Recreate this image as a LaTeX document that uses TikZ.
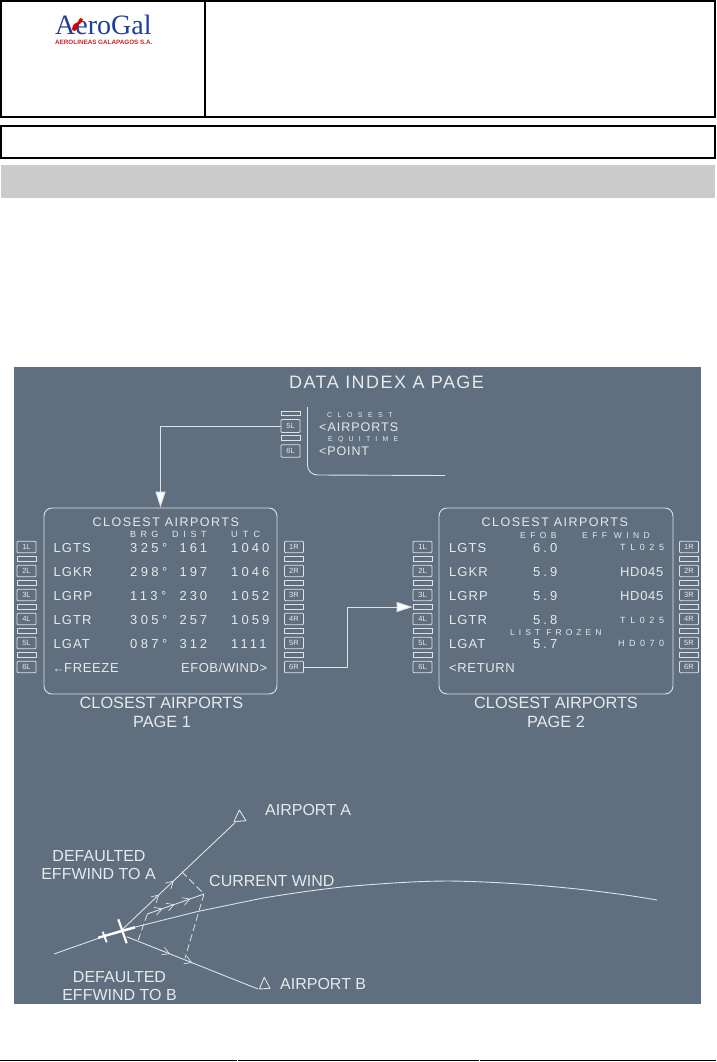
\documentclass[tikz,border=0pt]{standalone}
\usepackage{fontspec}
\setmainfont{Liberation Sans}
\newfontfamily\logoserif{Liberation Serif}
\usetikzlibrary{arrows.meta,decorations.markings}
\definecolor{panelbg}{HTML}{5F6F7F}
\definecolor{inkc}{HTML}{E6EAED}
\definecolor{linec}{HTML}{DDE2E6}
\definecolor{greybar}{HTML}{CBCBCB}
\definecolor{logoblue}{HTML}{1F3E96}
\definecolor{logored}{HTML}{C9252C}
\tikzset{
  hdrbox/.style={draw=black,line width=2pt},
  screenbox/.style={draw=linec,line width=0.9pt,rounded corners=8pt,minimum width=233pt,minimum height=186pt,inner sep=0pt},
  keybtn/.style={draw=linec,line width=0.8pt,rounded corners=1pt,minimum width=19pt,minimum height=11.5pt,inner sep=0pt,text=inkc,font=\fontsize{7.5}{7.5}\selectfont},
  keygap/.style={draw=linec,line width=0.8pt,minimum width=19pt,minimum height=4.5pt,inner sep=0pt},
  txt/.style={anchor=base west,inner sep=0pt,text=inkc},
  ctxt/.style={anchor=base,inner sep=0pt,text=inkc},
  conn/.style={draw=linec,line width=1pt},
  bighead/.style={-{Triangle[length=16pt,width=10pt,fill=white]}},
  track/.style={draw=linec,line width=0.9pt},
  dashline/.style={draw=linec,line width=0.8pt,dash pattern=on 7pt off 3.5pt},
  chev/.style={draw=linec,line width=0.7pt}
}
% \T{name}{x}{y}{size}{letterspace}{text}
\newcommand{\T}[6]{\node[txt] (#1) at (#2,#3) {\fontsize{#4}{#4}\selectfont\addfontfeature{LetterSpace=#5}#6};}
\newcommand{\C}[6]{\node[ctxt] (#1) at (#2,#3) {\fontsize{#4}{#4}\selectfont\addfontfeature{LetterSpace=#5}#6};}
\begin{document}
\begin{tikzpicture}[x=1pt,y=-1pt]
\useasboundingbox (0,0) rectangle (716,1062);
\fill[white] (0,0) rectangle (716,1062);
% header
\draw[hdrbox] (1,1) rectangle (715,117);
\draw[hdrbox] (205,1) -- (205,117);
\draw[hdrbox] (1,126) rectangle (715,158);
\fill[greybar] (1,165) rectangle (715,198);
% logo
\node[anchor=base west,inner sep=0pt,text=logoblue] (logoA) at (55,35) {\logoserif\fontsize{28}{28}\selectfont AeroGal};
\node[anchor=base west,inner sep=0pt,text=logored] (logoB) at (55,44.5) {\fontsize{6.3}{6.3}\selectfont\bfseries AEROLINEAS GALAPAGOS S.A.};
\fill[red!85!black] (72,29) .. controls (73,24) and (75,23) .. (78,22) .. controls (79,18) and (82,17) .. (83,19) .. controls (82,23) and (80,24) .. (78,25) .. controls (78,28) and (76,30) .. (75,31) .. controls (73,31) and (72,30) .. (72,29);
% panel
\fill[panelbg] (14,367) rectangle (701,1003.5);
\T{ttl}{289}{388}{18}{8}{DATA INDEX A PAGE}
% top keys
\node[keygap] (topS5) at (290.5,413.5) {};
\node[keybtn,minimum height=13pt] (top5L) at (290.5,426) {5L};
\node[keygap] (topS6) at (290.5,438) {};
\node[keybtn,minimum height=12.5pt] (top6L) at (290.5,451) {6L};
\draw[track] (307.5,407) -- (307.5,465) arc[start angle=180,end angle=90,radius=10] -- (445,475.5);
\T{tClo}{327}{417}{7}{78}{CLOSEST}
\T{tAir}{319}{431}{12.5}{8}{<AIRPORTS}
\T{tEqu}{328}{441.5}{7}{74}{EQUITIME}
\T{tPoi}{319}{455}{12.5}{7}{<POINT}
% screens
\node[screenbox] (screenA) at (160.5,601) {};
\node[screenbox,minimum width=234pt] (screenB) at (556,601) {};
% side keys
\foreach \i/\y in {1/547,2/571,3/595,4/619,5/643,6/667}{
  \node[keybtn] (aL\i) at (26.5,\y) {\i L};
  \node[keybtn] (aR\i) at (294,\y) {\i R};
  \node[keybtn] (bL\i) at (422.5,\y) {\i L};
  \node[keybtn] (bR\i) at (689,\y) {\i R};
}
\foreach \i/\y in {1/559,2/583,3/607,4/631,5/655}{
  \node[keygap] (aLg\i) at (26.5,\y) {};
  \node[keygap] (aRg\i) at (294,\y) {};
  \node[keygap] (bLg\i) at (422.5,\y) {};
  \node[keygap] (bRg\i) at (689,\y) {};
}
% connectors
\draw[conn,bighead] (top5L.west) -| (screenA.north);
\coordinate (elbowA) at (347,607);
\draw[conn,bighead] (aR6.east) -| (elbowA) -- (bLg3.west);
% page 1 text
\T{aTitle}{92.5}{526}{12.5}{11.8}{CLOSEST AIRPORTS}
\T{aBrg}{130}{537}{9}{48}{BRG}
\T{aDist}{172}{537}{9}{52}{DIST}
\T{aUtc}{231}{537}{9}{58}{UTC}
\foreach \nm/\y/\a/\b/\c/\d in {1/552/LGTS/325°/161/1040,2/576/LGKR/298°/197/1046,3/600/LGRP/113°/230/1052,4/624/LGTR/305°/257/1059,5/648/LGAT/087°/312/1111}{
  \T{aId\nm}{53.5}{\y}{13}{8}{\a}
  \T{aB\nm}{130}{\y}{13}{26}{\b}
  \T{aD\nm}{179.5}{\y}{13}{22}{\c}
  \T{aU\nm}{231}{\y}{13}{24}{\d}
}
\T{aArr}{52.5}{672}{12}{0}{←}
\T{aFrz}{64}{672}{13}{5}{FREEZE}
\T{aEfo}{181}{672}{13}{4}{EFOB/WIND>}
\C{aCap}{161.5}{708}{16.3}{0}{CLOSEST AIRPORTS}
\C{aPag}{162}{727}{16.3}{0}{PAGE 1}
% page 2 text
\T{bTitle}{481.5}{526}{12.5}{11.8}{CLOSEST AIRPORTS}
\T{bEfo}{520}{538}{8.5}{52}{EFOB}
\T{bEff}{582}{538}{8.5}{52}{EFF WIND}
\foreach \nm/\y/\a/\b in {1/552/LGTS/6.0,2/576/LGKR/5.9,3/600/LGRP/5.9,4/624/LGTR/5.8,5/648/LGAT/5.7}{
  \T{bId\nm}{449}{\y}{13}{8}{\a}
  \T{bV\nm}{533}{\y}{13}{23}{\b}
}
\T{bW1}{620}{550}{9}{51}{TL025}
\T{bW2}{620}{576}{13}{5}{HD045}
\T{bW3}{620}{600}{13}{5}{HD045}
\T{bW4}{620}{623}{9}{51}{TL025}
\T{bW5}{618}{646}{9}{50}{HD070}
\T{bFro}{510}{635.5}{8.5}{47}{LIST FROZEN}
\T{bRet}{449}{672}{13}{5}{<RETURN}
\C{bCap}{556}{708}{16.3}{0}{CLOSEST AIRPORTS}
\C{bPag}{556}{727}{16.3}{0}{PAGE 2}
% wind diagram
\draw[track] (54,954) -- (121.7,930) -- (136.7,926.7) -- (196.7,911.7) -- (263,898) .. controls (300,892) and (330,888) .. (353,886) .. controls (390,883) and (420,881) .. (450,881) .. controls (520,882) and (600,890) .. (657,900);
\coordinate (planeA) at (121.7,930);
\coordinate (planeB) at (126.7,936.7);
\coordinate (aptA) at (235,822.7);
\coordinate (aptB) at (258,989);
\draw[track,postaction={decorate,decoration={markings,
  mark=at position 0.33 with {\arrow[chev]{Straight Barb[length=7pt,width=8pt]}},
  mark=at position 0.46 with {\arrow[chev]{Straight Barb[length=7pt,width=8pt]}}}}] (planeA) -- (aptA);
\draw[track,postaction={decorate,decoration={markings,
  mark=at position 0.33 with {\arrow[chev]{Straight Barb[length=7pt,width=8pt]}},
  mark=at position 0.5 with {\arrow[chev]{Straight Barb[length=7pt,width=8pt]}}}}] (planeB) -- (aptB);
\coordinate (windS) at (147.3,914);
\coordinate (windE) at (204,894);
\draw[track,postaction={decorate,decoration={markings,
  mark=at position 0.27 with {\arrow[chev]{Straight Barb[length=7pt,width=8pt]}},
  mark=at position 0.48 with {\arrow[chev]{Straight Barb[length=7pt,width=8pt]}},
  mark=at position 0.76 with {\arrow[chev]{Straight Barb[length=7pt,width=8pt]}}}}] (windS) -- (windE);
\draw[dashline] (181.7,871.7) -- (windE) -- (185,958.3);
\draw[dashline] (windS) -- (138.3,940);
% aircraft
\draw[white,line width=2.4pt] (98.3,937.7) -- (135,927.3);
\draw[white,line width=2.2pt] (118.3,919.3) -- (126.7,943.3);
\draw[white,line width=1.8pt] (102.7,931.7) -- (106.7,942.3);
% airports
\draw[track,line join=round] (239.3,810) -- (234,821.7) -- (246,820.7) -- cycle;
\draw[track,line join=round] (264.3,977.3) -- (259.3,989) -- (270,988.3) -- cycle;
% labels
\T{lA}{265}{815}{16}{0}{AIRPORT A}
\T{lB}{280}{989}{16}{0}{AIRPORT B}
\C{lDa}{99}{861}{16}{0}{DEFAULTED}
\C{lEa}{98.5}{879}{16}{0}{EFFWIND TO A}
\T{lW}{209}{886.7}{16}{0}{CURRENT WIND}
\C{lDb}{119.5}{982}{16}{0}{DEFAULTED}
\C{lEb}{119.5}{1000.7}{16}{0}{EFFWIND TO B}
% foot rule
\draw[black,line width=1.6pt] (0,1060.3) -- (716,1060.3);
\draw[white,line width=0.4pt] (236.7,1059.5) -- (236.7,1061);
\draw[white,line width=0.4pt] (479.3,1059.5) -- (479.3,1061);
\end{tikzpicture}
\end{document}
